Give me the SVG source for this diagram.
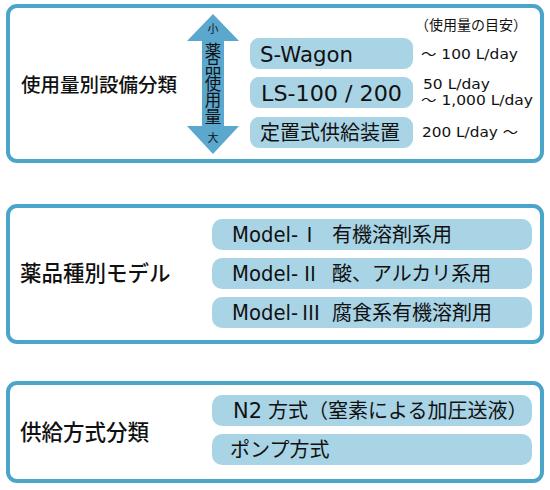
<svg xmlns="http://www.w3.org/2000/svg" width="550" height="490" viewBox="0 0 550 490">
<style>
.frame{fill:#ffffff;stroke:#4ba4c9;stroke-width:4}
.pill{fill:#a9d4e6}
.t{font-family:'DejaVu Sans','Noto Sans CJK JP',sans-serif;fill:#111111}
.j{font-family:'Noto Sans CJK JP',sans-serif;fill:#111111}
.title{font-family:'Noto Sans CJK JP',sans-serif;font-weight:500;fill:#111111}
.arrow{fill:#5ba7cd}
</style>
<rect width="550" height="490" fill="#ffffff"/>

<g id="panel-usage">
  <rect class="frame" x="8" y="6" width="534" height="155" rx="9"/>
  <text class="title" x="21" y="92" font-size="19.5">使用量別設備分類</text>
  <g id="usage-arrow">
    <polygon class="arrow" points="213,14 239,41 224,41 224,126 239,126 213,154 187,126 202,126 202,41 187,41"/>
    <text class="j" x="213" y="33" font-size="11" text-anchor="middle">小</text>
    <text class="j" x="213" y="42" font-size="16.5" writing-mode="vertical-rl">薬品使用量</text>
    <text class="j" x="213" y="142" font-size="11" text-anchor="middle">大</text>
  </g>
  <text class="j" x="415" y="30" font-size="14">（使用量の目安）</text>
</g>

<g id="node-swagon">
  <rect class="pill" x="250" y="38" width="163" height="31" rx="9"/>
  <text class="t" x="260" y="62" font-size="20.5" textLength="93" lengthAdjust="spacingAndGlyphs">S-Wagon</text>
  <text class="t" x="421" y="59" font-size="14" textLength="97" lengthAdjust="spacingAndGlyphs">～ 100 L/day</text>
</g>
<g id="node-ls">
  <rect class="pill" x="250" y="77" width="163" height="31" rx="9"/>
  <text class="t" x="261" y="101" font-size="20.5" textLength="141" lengthAdjust="spacingAndGlyphs">LS-100 / 200</text>
  <text class="t" x="423" y="88.5" font-size="13.5" textLength="67" lengthAdjust="spacingAndGlyphs">50 L/day</text>
  <text class="t" x="421" y="104.5" font-size="13.5" textLength="112" lengthAdjust="spacingAndGlyphs">～ 1,000 L/day</text>
</g>
<g id="node-fixed">
  <rect class="pill" x="250" y="117" width="163" height="31" rx="9"/>
  <text class="j" x="260" y="140" font-size="20">定置式供給装置</text>
  <text class="t" x="422" y="137" font-size="14" textLength="96" lengthAdjust="spacingAndGlyphs">200 L/day ～</text>
</g>

<g id="panel-model">
  <rect class="frame" x="8" y="206" width="534" height="136" rx="9"/>
  <text class="title" x="20" y="281" font-size="21.5">薬品種別モデル</text>
</g>
<g id="node-model1">
  <rect class="pill" x="212" y="219" width="320" height="31" rx="10"/>
  <text class="t" y="242" font-size="20.5"><tspan x="232" textLength="66" lengthAdjust="spacingAndGlyphs">Model-</tspan><tspan class="j" x="299.5" font-size="20">Ⅰ</tspan><tspan class="j" x="332" font-size="20">有機溶剤系用</tspan></text>
</g>
<g id="node-model2">
  <rect class="pill" x="212" y="258" width="320" height="31" rx="10"/>
  <text class="t" y="281" font-size="20.5"><tspan x="232" textLength="66" lengthAdjust="spacingAndGlyphs">Model-</tspan><tspan class="j" x="300" font-size="20">Ⅱ</tspan><tspan class="j" x="332" font-size="20">酸、アルカリ系用</tspan></text>
</g>
<g id="node-model3">
  <rect class="pill" x="212" y="297" width="320" height="31" rx="10"/>
  <text class="t" y="320" font-size="20.5"><tspan x="232" textLength="66" lengthAdjust="spacingAndGlyphs">Model-</tspan><tspan class="j" x="301" font-size="20">Ⅲ</tspan><tspan class="j" x="332" font-size="20">腐食系有機溶剤用</tspan></text>
</g>

<g id="panel-supply">
  <rect class="frame" x="8" y="383" width="534" height="98" rx="9"/>
  <text class="title" x="20" y="440" font-size="21.5">供給方式分類</text>
</g>
<g id="node-n2">
  <rect class="pill" x="212" y="395" width="320" height="31" rx="10"/>
  <text class="t" y="418" font-size="20.5"><tspan x="233" textLength="29" lengthAdjust="spacingAndGlyphs">N2</tspan><tspan class="j" x="268" font-size="20">方式（窒素による加圧送液）</tspan></text>
</g>
<g id="node-pump">
  <rect class="pill" x="212" y="434" width="320" height="31" rx="10"/>
  <text class="j" x="230" y="457" font-size="20">ポンプ方式</text>
</g>

<g id="connectors"></g>
</svg>
